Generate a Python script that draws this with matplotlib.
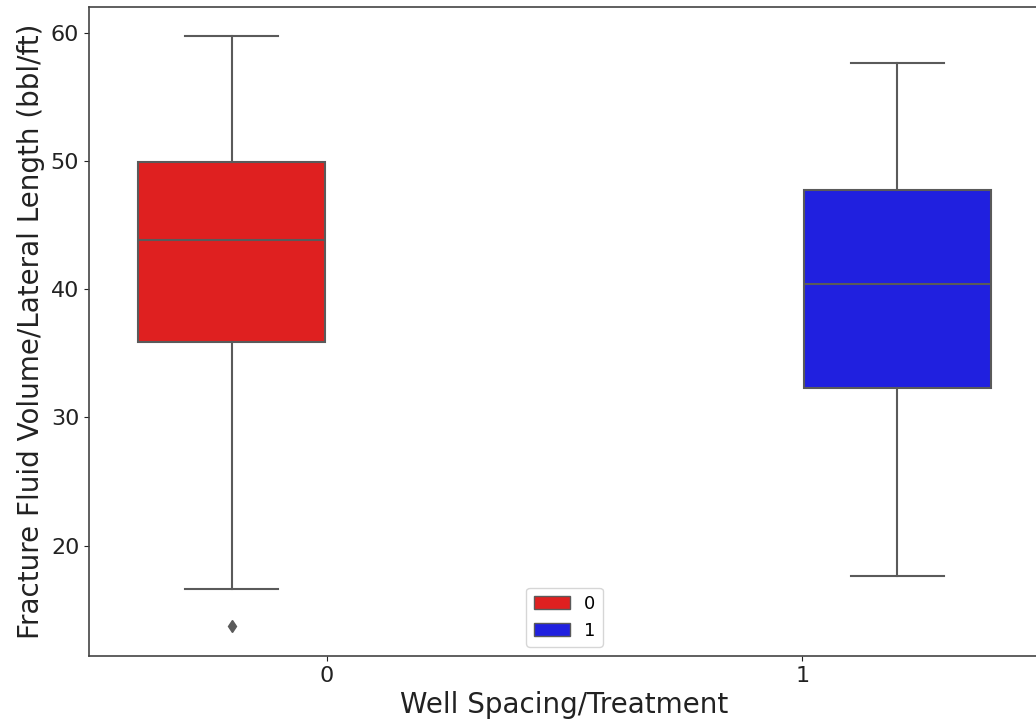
import numpy as np
import matplotlib.pyplot as plt
from matplotlib.patches import Patch

# box statistics
groups = [0, 1]
hues = ['0', '1']
box_colors = ['#df2020', '#2020df']
q1 = [35.9, 32.3]
med = [43.8, 40.4]
q3 = [49.9, 47.7]
whislo = [16.6, 17.6]
whishi = [59.7, 57.6]
fliers = [[13.7], []]

hue_offsets = [-0.2, 0.2]
box_w = 0.4 * 0.98
gray = '#5a5a5a'

fig = plt.figure(figsize=(10.36, 7.27), dpi=100)
ax = fig.add_axes([89 / 1036, 1 - 656 / 727, (1040 - 89) / 1036, (656 - 7) / 727])

stats = []
for i in range(len(groups)):
    stats.append(dict(med=med[i], q1=q1[i], q3=q3[i],
                      whislo=whislo[i], whishi=whishi[i], fliers=fliers[i]))

positions = [groups[i] + hue_offsets[i] for i in range(len(groups))]
bp = ax.bxp(stats, positions=positions, widths=box_w, patch_artist=True,
            capwidths=box_w / 2, manage_ticks=False,
            boxprops=dict(edgecolor=gray, linewidth=1.5),
            whiskerprops=dict(color=gray, linewidth=1.5),
            capprops=dict(color=gray, linewidth=1.5),
            medianprops=dict(color=gray, linewidth=1.5),
            flierprops=dict(marker='d', markerfacecolor=gray, markeredgecolor=gray,
                            markersize=6, linestyle='none'))
for patch, c in zip(bp['boxes'], box_colors):
    patch.set_facecolor(c)

ax.set_xlim(-0.5, 1.5)
ax.set_xticks(groups)
ax.set_xticklabels([str(g) for g in groups])
ax.set_yticks([20, 30, 40, 50, 60])
ax.tick_params(labelsize=16, colors='#222222')
ax.set_xlabel('Well Spacing/Treatment', fontsize=20, color='#222222')
ax.set_ylabel('Fracture Fluid Volume/Lateral Length (bbl/ft)', fontsize=20, color='#222222')
for s in ax.spines.values():
    s.set_color('#444444')
    s.set_linewidth(1.2)

handles = [Patch(facecolor=c, edgecolor=gray, label=h) for c, h in zip(box_colors, hues)]
ax.legend(handles=handles, loc='lower center', fontsize=13)

fig.savefig('out.png', dpi=100)
